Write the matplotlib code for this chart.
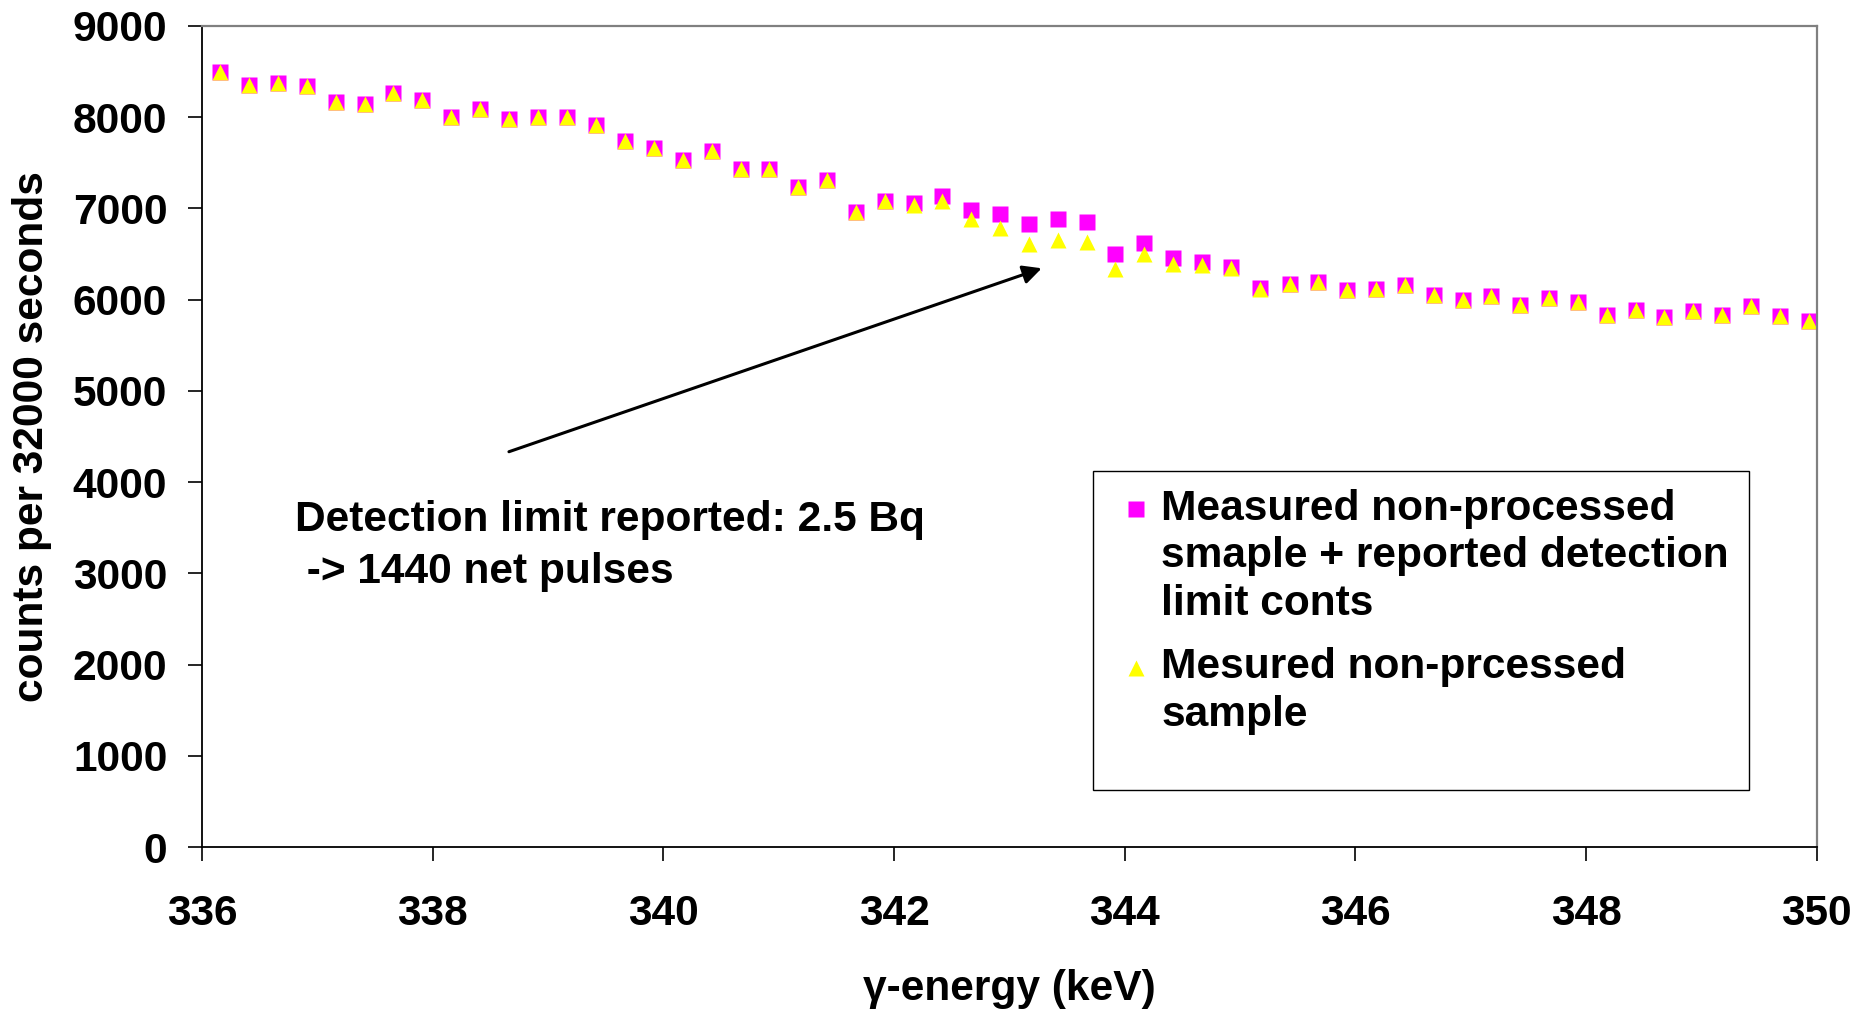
import numpy as np
import matplotlib
matplotlib.use("Agg")
import matplotlib.pyplot as plt
from matplotlib.patches import Rectangle
from matplotlib.legend_handler import HandlerLine2D

plt.rcParams['font.family'] = ['Liberation Sans', 'DejaVu Sans']
plt.rcParams['font.weight'] = 'bold'
plt.rcParams['axes.labelweight'] = 'bold'

# gamma energy of each channel (keV)
energy = [336.16, 336.41, 336.66, 336.91, 337.16, 337.41, 337.66, 337.91,
          338.16, 338.41, 338.66, 338.91, 339.16, 339.42, 339.67, 339.92,
          340.17, 340.42, 340.67, 340.92, 341.17, 341.42, 341.67, 341.92,
          342.17, 342.42, 342.67, 342.92, 343.17, 343.42, 343.67, 343.92,
          344.17, 344.42, 344.67, 344.92, 345.17, 345.43, 345.68, 345.93,
          346.18, 346.43, 346.68, 346.93, 347.18, 347.43, 347.68, 347.93,
          348.18, 348.43, 348.68, 348.93, 349.18, 349.43, 349.68, 349.93]

# measured sample + reported detection limit counts
with_limit = [8500, 8353, 8375, 8339, 8163, 8145, 8266, 8189,
              8002, 8094, 7984, 8006, 7999, 7915, 7739, 7663,
              7535, 7630, 7436, 7436, 7232, 7312, 6958, 7081,
              7057, 7136, 6979, 6943, 6826, 6888, 6855, 6506,
              6621, 6462, 6416, 6356, 6124, 6172, 6192, 6110,
              6119, 6157, 6047, 5998, 6042, 5943, 6014, 5975,
              5834, 5883, 5809, 5874, 5830, 5929, 5819, 5761]

# measured non-processed sample
measured = [8500, 8353, 8375, 8339, 8163, 8145, 8266, 8189,
            8002, 8094, 7984, 8006, 7999, 7915, 7739, 7663,
            7535, 7630, 7436, 7436, 7232, 7312, 6958, 7081,
            7037, 7081, 6882, 6784, 6614, 6656, 6630, 6331,
            6506, 6395, 6385, 6347, 6120, 6172, 6192, 6110,
            6119, 6157, 6047, 5998, 6042, 5943, 6014, 5975,
            5834, 5883, 5809, 5874, 5830, 5929, 5819, 5761]

labels = ['Measured non-processed\nsmaple + reported detection\nlimit conts',
          'Mesured non-prcessed\nsample']

FS = 30.6


class TopHandler(HandlerLine2D):
    # marker next to the first line of a multi-line label
    def __init__(self, lift, **kw):
        super().__init__(**kw)
        self.lift = lift

    def create_artists(self, legend, orig_handle, xdescent, ydescent,
                       width, height, fontsize, trans):
        arts = super().create_artists(legend, orig_handle, xdescent, ydescent,
                                      width, height, fontsize, trans)
        for a in arts:
            a.set_ydata(np.asarray(a.get_ydata()) + self.lift * fontsize)
        return arts


fig = plt.figure(figsize=(18.76, 10.11), dpi=100)
ax = fig.add_axes([0.1077, 0.1622, 0.8607, 0.8121])

sq, = ax.plot(energy, with_limit, ls='none', marker='s', ms=11.2,
              mfc='#FF00FF', mec='none')
tri, = ax.plot(energy, measured, ls='none', marker='^', ms=11.5,
               mfc='#FFFF00', mec='none')

ax.set_xlim(336, 350)
ax.set_ylim(0, 9000)
ax.set_xticks([336, 338, 340, 342, 344, 346, 348, 350])
ax.set_yticks(range(0, 9001, 1000))
ax.tick_params(direction='out', length=10, width=1.2, labelsize=FS)
ax.tick_params(axis='x', pad=24)
ax.tick_params(axis='y', pad=15)

for s in ['left', 'bottom']:
    ax.spines[s].set_color('black')
    ax.spines[s].set_linewidth(1.3)
for s in ['top', 'right']:
    ax.spines[s].set_color('#808080')
    ax.spines[s].set_linewidth(1.6)

ax.set_ylabel('counts per 32000 seconds', fontsize=FS, fontweight='bold')
ax.yaxis.set_label_coords(-0.093, 0.5)
ax.set_xlabel('γ-energy (keV)', fontsize=FS, fontweight='bold', labelpad=25)

# anchored on the baseline of the last line
ax.text(336.807, 2894, 'Detection limit reported: 2.5 Bq\n -> 1440 net pulses',
        fontsize=FS, va='baseline', ha='left', linespacing=1.4)
ax.annotate('', xy=(343.28, 6344), xytext=(338.661, 4333),
            arrowprops=dict(arrowstyle='-|>', color='black', lw=2.2,
                            mutation_scale=28, shrinkA=0, shrinkB=0))

# legend box drawn separately so its size matches the original
ax.add_patch(Rectangle((0.5518, 0.0694), 0.4063, 0.3886, transform=ax.transAxes,
                       facecolor='white', edgecolor='black', lw=1.0, zorder=4.5))
leg = ax.legend([sq, tri], labels, loc='upper left',
                bbox_to_anchor=(0.5518, 0.4624), borderaxespad=0,
                fontsize=FS, frameon=False,
                borderpad=0.5, handlelength=1.0, handletextpad=0.1,
                labelspacing=0.55,
                handler_map={sq: TopHandler(1.12), tri: TopHandler(0.56)})
for t in leg.get_texts():
    t.set_linespacing(1.25)

fig.savefig('out.png', dpi=100)
